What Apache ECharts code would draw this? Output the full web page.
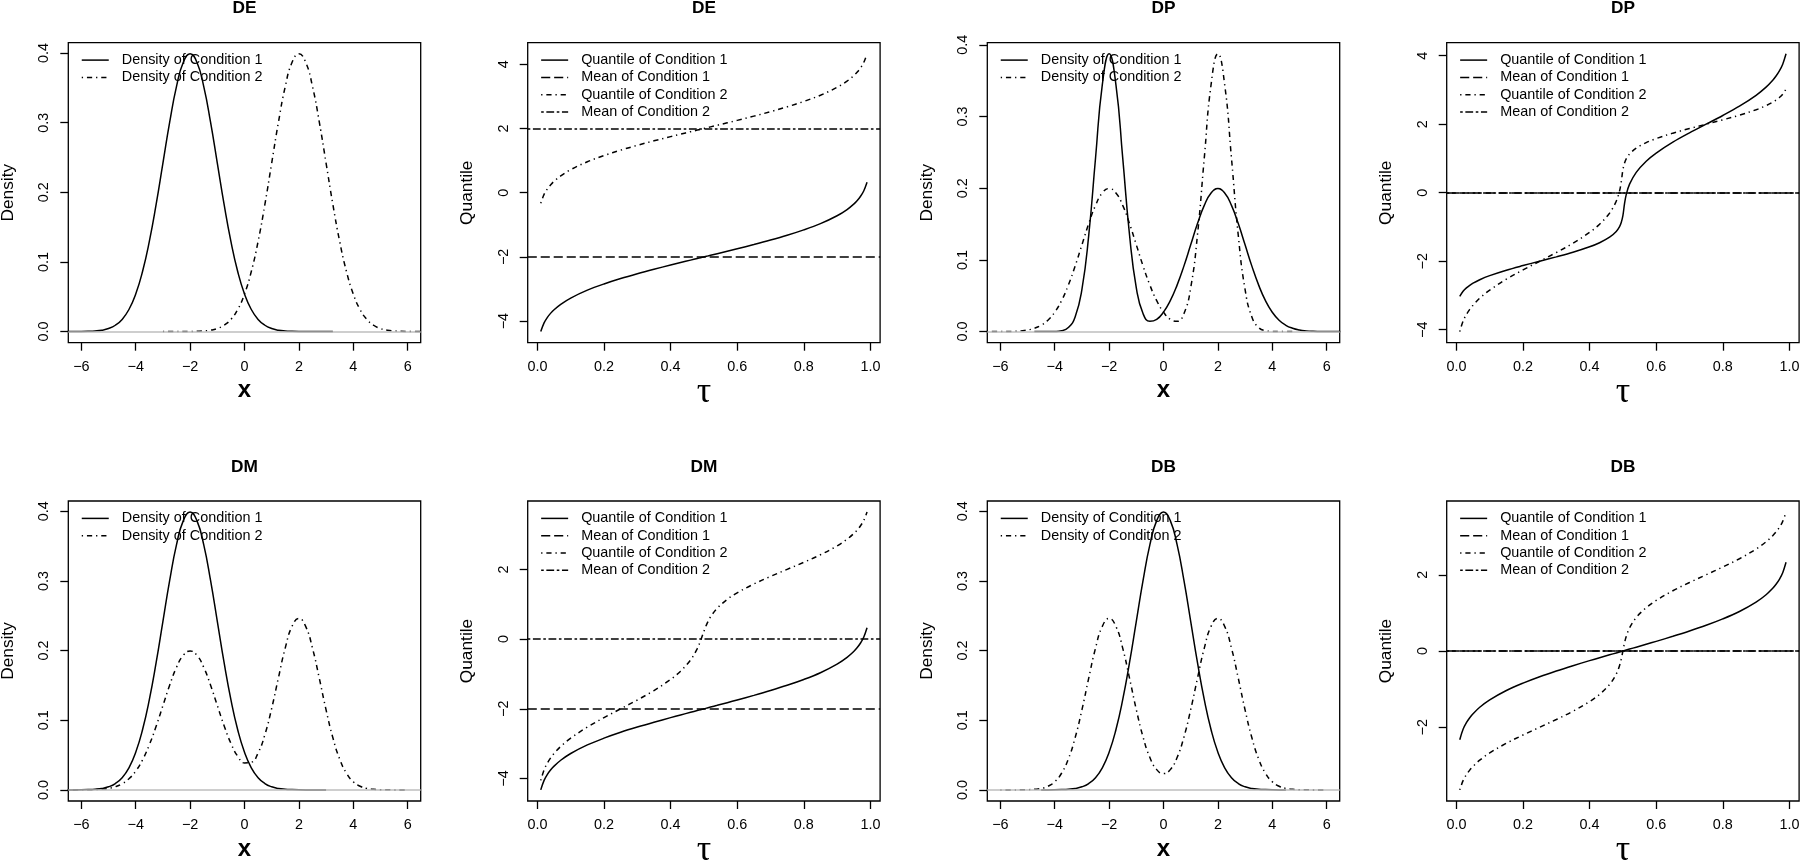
<!DOCTYPE html>
<html><head><meta charset="utf-8">
<script src="https://cdn.jsdelivr.net/npm/echarts@6/dist/echarts.min.js"></script>
<style>html,body{margin:0;padding:0;background:#fff}#c{width:1800px;height:860px}</style>
</head><body><div id="c"></div>
<script>
// ---------------- data ----------------
// x grid for the density panels
const xGrid = [-6.5,-6.25,-6,-5.75,-5.5,-5.25,-5,-4.75,-4.5,-4.25,-4,-3.75,-3.5,-3.25,-3,-2.75,-2.5,-2.25,-2,-1.75,-1.5,-1.25,-1,-0.75,-0.5,-0.25,0,0.25,0.5,0.75,1,1.25,1.5,1.75,2,2.25,2.5,2.75,3,3.25,3.5,3.75,4,4.25,4.5,4.75,5,5.25,5.5,5.75,6,6.25,6.5];

// DE densities
const deDens1 = [0.0000,0.0000,0.0001,0.0004,0.0009,0.0020,0.0044,0.0091,0.0175,0.0317,0.0540,0.0863,0.1295,0.1826,0.2420,0.3011,0.3521,0.3867,0.3989,0.3867,0.3521,0.3011,0.2420,0.1826,0.1295,0.0863,0.0540,0.0317,0.0175,0.0091,0.0044,0.0020,0.0009,0.0004,0.0001,0.0000,0.0000,0.0000,0.0000,0.0000,null,null,null,null,null,null,null,null,null,null,null,null,null];
const deDens2 = [null,null,null,null,null,null,null,null,null,null,null,null,null,null,0.0000,0.0000,0.0000,0.0000,0.0001,0.0004,0.0009,0.0020,0.0044,0.0091,0.0175,0.0317,0.0540,0.0863,0.1295,0.1826,0.2420,0.3011,0.3521,0.3867,0.3989,0.3867,0.3521,0.3011,0.2420,0.1826,0.1295,0.0863,0.0540,0.0317,0.0175,0.0091,0.0044,0.0020,0.0009,0.0004,0.0001,0.0000,0.0000];
// DP densities
const dpDens1 = [null,null,null,null,null,null,null,0.0000,0.0000,0.0000,0.0002,0.0012,0.0056,0.0204,0.0588,0.1341,0.2418,0.3443,0.3874,0.3445,0.2422,0.1351,0.0610,0.0249,0.0143,0.0171,0.0272,0.0431,0.0648,0.0913,0.1210,0.1506,0.1760,0.1933,0.1995,0.1933,0.1760,0.1506,0.1210,0.0913,0.0648,0.0431,0.0270,0.0159,0.0088,0.0046,0.0022,0.0010,0.0004,0.0002,0.0001,0.0000,0.0000];
const dpDens2 = [0.0000,0.0000,0.0001,0.0002,0.0004,0.0010,0.0022,0.0046,0.0088,0.0159,0.0270,0.0431,0.0648,0.0913,0.1210,0.1506,0.1760,0.1933,0.1995,0.1933,0.1760,0.1506,0.1210,0.0913,0.0648,0.0431,0.0272,0.0171,0.0143,0.0249,0.0610,0.1351,0.2422,0.3445,0.3874,0.3443,0.2418,0.1341,0.0588,0.0204,0.0056,0.0012,0.0002,0.0000,0.0000,0.0000,null,null,null,null,null,null,null];
// DM densities
const dmDens1 = [0.0000,0.0000,0.0001,0.0004,0.0009,0.0020,0.0044,0.0091,0.0175,0.0317,0.0540,0.0863,0.1295,0.1826,0.2420,0.3011,0.3521,0.3867,0.3989,0.3867,0.3521,0.3011,0.2420,0.1826,0.1295,0.0863,0.0540,0.0317,0.0175,0.0091,0.0044,0.0020,0.0009,0.0004,0.0001,0.0000,0.0000,0.0000,0.0000,null,null,null,null,null,null,null,null,null,null,null,null,null,null];
const dmDens2 = [0.0000,0.0000,0.0001,0.0002,0.0004,0.0010,0.0022,0.0046,0.0088,0.0159,0.0270,0.0431,0.0648,0.0913,0.1210,0.1506,0.1760,0.1933,0.1995,0.1933,0.1760,0.1506,0.1213,0.0921,0.0669,0.0483,0.0387,0.0397,0.0531,0.0794,0.1171,0.1614,0.2040,0.2350,0.2463,0.2348,0.2035,0.1604,0.1149,0.0749,0.0443,0.0239,0.0117,0.0052,0.0021,0.0008,0.0003,0.0001,0.0000,0.0000,0.0000,null,null];
// DB densities
const dbDens1 = [null,null,null,null,null,null,null,null,0.0000,0.0000,0.0001,0.0004,0.0009,0.0020,0.0044,0.0091,0.0175,0.0317,0.0540,0.0863,0.1295,0.1826,0.2420,0.3011,0.3521,0.3867,0.3989,0.3867,0.3521,0.3011,0.2420,0.1826,0.1295,0.0863,0.0540,0.0317,0.0175,0.0091,0.0044,0.0020,0.0009,0.0004,0.0001,0.0000,0.0000,null,null,null,null,null,null,null,null];
const dbDens2 = [null,null,0.0000,0.0000,0.0000,0.0001,0.0003,0.0008,0.0021,0.0052,0.0117,0.0239,0.0443,0.0749,0.1149,0.1604,0.2035,0.2348,0.2463,0.2348,0.2035,0.1604,0.1152,0.0757,0.0464,0.0291,0.0234,0.0291,0.0464,0.0757,0.1152,0.1604,0.2035,0.2348,0.2463,0.2348,0.2035,0.1604,0.1149,0.0749,0.0443,0.0239,0.0117,0.0052,0.0021,0.0008,0.0003,0.0001,0.0000,0.0000,0.0000,null,null];

// quantile levels
const tau = [0.01,0.02,0.03,0.04,0.05,0.07,0.10,0.15,0.20,0.25,0.30,0.35,0.40,0.43,0.46,0.48,0.49,0.495,0.50,0.505,0.51,0.52,0.54,0.57,0.60,0.65,0.70,0.75,0.80,0.85,0.90,0.93,0.95,0.96,0.97,0.98,0.99];
const deQuant1 = [-4.326,-4.054,-3.881,-3.751,-3.645,-3.476,-3.282,-3.036,-2.842,-2.674,-2.524,-2.385,-2.253,-2.176,-2.100,-2.050,-2.025,-2.013,-2.000,-1.987,-1.975,-1.950,-1.900,-1.824,-1.747,-1.615,-1.476,-1.326,-1.158,-0.964,-0.718,-0.524,-0.355,-0.249,-0.119,0.054,0.326];
const deQuant2 = [-0.326,-0.054,0.119,0.249,0.355,0.524,0.718,0.964,1.158,1.326,1.476,1.615,1.747,1.824,1.900,1.950,1.975,1.987,2.000,2.013,2.025,2.050,2.100,2.176,2.253,2.385,2.524,2.674,2.842,3.036,3.282,3.476,3.645,3.751,3.881,4.054,4.326];
const dpQuant1 = [-3.027,-2.875,-2.777,-2.703,-2.641,-2.540,-2.421,-2.262,-2.127,-2.000,-1.873,-1.738,-1.579,-1.460,-1.299,-1.130,-0.987,-0.868,-0.667,-0.313,-0.055,0.249,0.595,0.920,1.158,1.476,1.747,2.000,2.253,2.524,2.842,3.080,3.282,3.405,3.555,3.751,4.054];
const dpQuant2 = [-4.054,-3.751,-3.555,-3.405,-3.282,-3.080,-2.842,-2.524,-2.253,-2.000,-1.747,-1.476,-1.158,-0.920,-0.595,-0.249,0.055,0.313,0.667,0.868,0.987,1.130,1.299,1.460,1.579,1.738,1.873,2.000,2.127,2.262,2.421,2.540,2.641,2.703,2.777,2.875,3.027];
const dmQuant1 = [-4.326,-4.054,-3.881,-3.751,-3.645,-3.476,-3.282,-3.036,-2.842,-2.674,-2.524,-2.385,-2.253,-2.176,-2.100,-2.050,-2.025,-2.013,-2.000,-1.987,-1.975,-1.950,-1.900,-1.824,-1.747,-1.615,-1.476,-1.326,-1.158,-0.964,-0.718,-0.524,-0.355,-0.249,-0.119,0.054,0.326];
const dmQuant2 = [-4.054,-3.751,-3.555,-3.405,-3.282,-3.080,-2.842,-2.524,-2.253,-2.000,-1.747,-1.476,-1.158,-0.920,-0.599,-0.274,-0.044,0.088,0.222,0.348,0.458,0.637,0.886,1.139,1.328,1.581,1.797,2.000,2.203,2.420,2.673,2.864,3.025,3.124,3.244,3.401,3.643];
const dbQuant1 = [-2.326,-2.054,-1.881,-1.751,-1.645,-1.476,-1.282,-1.036,-0.842,-0.674,-0.524,-0.385,-0.253,-0.176,-0.100,-0.050,-0.025,-0.013,0.000,0.013,0.025,0.050,0.100,0.176,0.253,0.385,0.524,0.674,0.842,1.036,1.282,1.476,1.645,1.751,1.881,2.054,2.326];
const dbQuant2 = [-3.643,-3.401,-3.244,-3.124,-3.025,-2.864,-2.673,-2.420,-2.203,-2.000,-1.797,-1.580,-1.327,-1.136,-0.877,-0.605,-0.380,-0.215,0.000,0.215,0.380,0.605,0.877,1.136,1.327,1.580,1.797,2.000,2.203,2.420,2.673,2.864,3.025,3.124,3.244,3.401,3.643];

// means
const deMeans = [-2, 2];
const dpMeans = [0, 0];
const dmMeans = [-2, 0];
const dbMeans = [0, 0];

// ticks
const densXTicks = [-6, -4, -2, 0, 2, 4, 6];
const densYTicks = [0, 0.1, 0.2, 0.3, 0.4];
const tauTicks = [0, 0.2, 0.4, 0.6, 0.8, 1.0];
const quantTicksWide = [-4, -2, 0, 2, 4];
const quantTicksDM = [-4, -2, 0, 2];
const quantTicksDB = [-2, 0, 2];
const densXLim = [-6, 6];

const densNames = ['Density of Condition 1', 'Density of Condition 2'];
const quantNames = ['Quantile of Condition 1', 'Mean of Condition 1', 'Quantile of Condition 2', 'Mean of Condition 2'];

// ---------------- layout / style ----------------
const FONT = '"Liberation Sans", Arial, Helvetica, sans-serif';
const GRID_LEFT = [68.3, 527.7, 987.3, 1446.7];
const GRID_TOP = [42.7, 501];
const GW = 352.4, GH = 300;
const LW = 1.5;
const DASH = {
  solid: 'solid',
  longdash: [9.1, 3.9],
  dotdash: [1.3, 3.9, 5.2, 3.9],
  twodash: [2.6, 2.6, 7.8, 2.6]
};

const panels = [
  {title: 'DE', kind: 'dens', row: 0, col: 0, d1: deDens1, d2: deDens2},
  {title: 'DE', kind: 'quant', row: 0, col: 1, q1: deQuant1, q2: deQuant2, m: deMeans, yt: quantTicksWide},
  {title: 'DP', kind: 'dens', row: 0, col: 2, d1: dpDens1, d2: dpDens2},
  {title: 'DP', kind: 'quant', row: 0, col: 3, q1: dpQuant1, q2: dpQuant2, m: dpMeans, yt: quantTicksWide},
  {title: 'DM', kind: 'dens', row: 1, col: 0, d1: dmDens1, d2: dmDens2},
  {title: 'DM', kind: 'quant', row: 1, col: 1, q1: dmQuant1, q2: dmQuant2, m: dmMeans, yt: quantTicksDM},
  {title: 'DB', kind: 'dens', row: 1, col: 2, d1: dbDens1, d2: dbDens2},
  {title: 'DB', kind: 'quant', row: 1, col: 3, q1: dbQuant1, q2: dbQuant2, m: dbMeans, yt: quantTicksDB}
];

function expand(lo, hi) { const d = (hi - lo) * 0.04; return [lo - d, hi + d]; }
const minus = v => String(v).replace('-', '\u2212');
const valid = arr => arr.filter(v => v !== null);

const option = {
  animation: false,
  backgroundColor: '#ffffff',
  textStyle: {fontFamily: FONT, color: '#000'},
  title: [], grid: [], xAxis: [], yAxis: [], legend: [], series: []
};

function tickCfg(ticks) {
  return {show: true, inside: false, length: 8, customValues: ticks, lineStyle: {color: '#000', width: 1.3}};
}
function labelCfg(ticks, fmt, rotate) {
  return {show: true, customValues: ticks, formatter: fmt, color: '#000', fontSize: 14.4, fontFamily: FONT, margin: 17, rotate: rotate || 0};
}
function lineSeries(name, i, data, dash, extra) {
  return Object.assign({
    type: 'line', name: name, xAxisIndex: i, yAxisIndex: i, data: data,
    symbol: 'none', showSymbol: false, smooth: true, clip: true, z: 3,
    lineStyle: {color: '#000', width: LW, type: dash},
    itemStyle: {color: '#000'},
    emphasis: {disabled: true}, silent: true
  }, extra || {});
}
function hLine(value, color, dash) {
  return {
    silent: true, symbol: ['none', 'none'], label: {show: false}, animation: false,
    lineStyle: {color: color, width: LW, type: dash},
    emphasis: {disabled: true},
    data: [{yAxis: value}]
  };
}

panels.forEach((p, i) => {
  const left = GRID_LEFT[p.col], top = GRID_TOP[p.row];
  option.grid.push({left: left, top: top, width: GW, height: GH, show: true,
    borderColor: '#000', borderWidth: 1.3, backgroundColor: 'rgba(0,0,0,0)',
    containLabel: false, outerBoundsMode: 'none'});
  option.title.push({text: p.title, left: left + GW / 2, top: Math.max(0, top - 42.5), textAlign: 'center', padding: 0,
    textStyle: {fontSize: 17.3, fontWeight: 'bold', fontFamily: FONT, color: '#000'}});
  const names = p.kind === 'dens' ? densNames : quantNames;
  option.legend.push({
    data: names, orient: 'vertical', left: left + 12.7, top: top + 10.4, padding: 0,
    itemWidth: 27, itemHeight: 14, itemGap: 3.3, selectedMode: false,
    itemStyle: {opacity: 0}, lineStyle: {width: LW},
    textStyle: {fontSize: 14.4, fontFamily: FONT, color: '#000', padding: [0, 0, 0, 8]}
  });

  if (p.kind === 'dens') {
    const ymax = Math.max(...valid(p.d1), ...valid(p.d2));
    const yr = expand(0, ymax), xr = expand(densXLim[0], densXLim[1]);
    option.xAxis.push({type: 'value', gridIndex: i, min: xr[0], max: xr[1],
      axisLine: {show: false, onZero: false}, splitLine: {show: false},
      axisTick: tickCfg(densXTicks), axisLabel: labelCfg(densXTicks, v => minus(v)),
      name: 'x', nameLocation: 'middle', nameGap: 36,
      nameTextStyle: {fontSize: 24, fontWeight: 'bold', fontFamily: FONT, color: '#000'}});
    option.yAxis.push({type: 'value', gridIndex: i, min: yr[0], max: yr[1],
      axisLine: {show: false, onZero: false}, splitLine: {show: false},
      axisTick: tickCfg(densYTicks), axisLabel: labelCfg(densYTicks, v => v.toFixed(1), 90),
      name: 'Density', nameLocation: 'middle', nameGap: 52, nameRotate: 90,
      nameTextStyle: {fontSize: 17.3, fontFamily: FONT, color: '#000'}});
    const pts = arr => xGrid.map((x, j) => [x, arr[j]]).filter(d => d[1] !== null);
    option.series.push({type: 'line', name: 'zero' + i, xAxisIndex: i, yAxisIndex: i, data: [], z: 1, silent: true,
      symbol: 'none', lineStyle: {color: '#bebebe', width: LW}, markLine: hLine(0, '#bebebe', 'solid')});
    option.series.push(lineSeries(densNames[0], i, pts(p.d1), DASH.solid));
    option.series.push(lineSeries(densNames[1], i, pts(p.d2), DASH.dotdash));
  } else {
    const all = p.q1.concat(p.q2, p.m);
    const yr = expand(Math.min(...all), Math.max(...all));
    const xr = expand(tau[0], tau[tau.length - 1]);
    option.xAxis.push({type: 'value', gridIndex: i, min: xr[0], max: xr[1],
      axisLine: {show: false, onZero: false}, splitLine: {show: false},
      axisTick: tickCfg(tauTicks), axisLabel: labelCfg(tauTicks, v => v.toFixed(1)),
      name: '\u03C4', nameLocation: 'middle', nameGap: 30,
      nameTextStyle: {fontSize: 36, fontFamily: '"Liberation Serif", "DejaVu Serif", serif', color: '#000'}});
    option.yAxis.push({type: 'value', gridIndex: i, min: yr[0], max: yr[1],
      axisLine: {show: false, onZero: false}, splitLine: {show: false},
      axisTick: tickCfg(p.yt), axisLabel: labelCfg(p.yt, v => minus(v), 90),
      name: 'Quantile', nameLocation: 'middle', nameGap: 52, nameRotate: 90,
      nameTextStyle: {fontSize: 17.3, fontFamily: FONT, color: '#000'}});
    const pts = arr => tau.map((t, j) => [t, arr[j]]);
    option.series.push(lineSeries(quantNames[0], i, pts(p.q1), DASH.solid, {smooth: 0.35}));
    option.series.push(lineSeries(quantNames[1], i, [], DASH.longdash, {markLine: hLine(p.m[0], '#000', DASH.longdash)}));
    option.series.push(lineSeries(quantNames[2], i, pts(p.q2), DASH.dotdash, {smooth: 0.35}));
    option.series.push(lineSeries(quantNames[3], i, [], DASH.twodash, {markLine: hLine(p.m[1], '#000', DASH.twodash)}));
  }
});

const chart = echarts.init(document.getElementById('c'), null, {renderer: 'canvas', width: 1800, height: 860});
chart.setOption(option);
</script>
</body></html>
